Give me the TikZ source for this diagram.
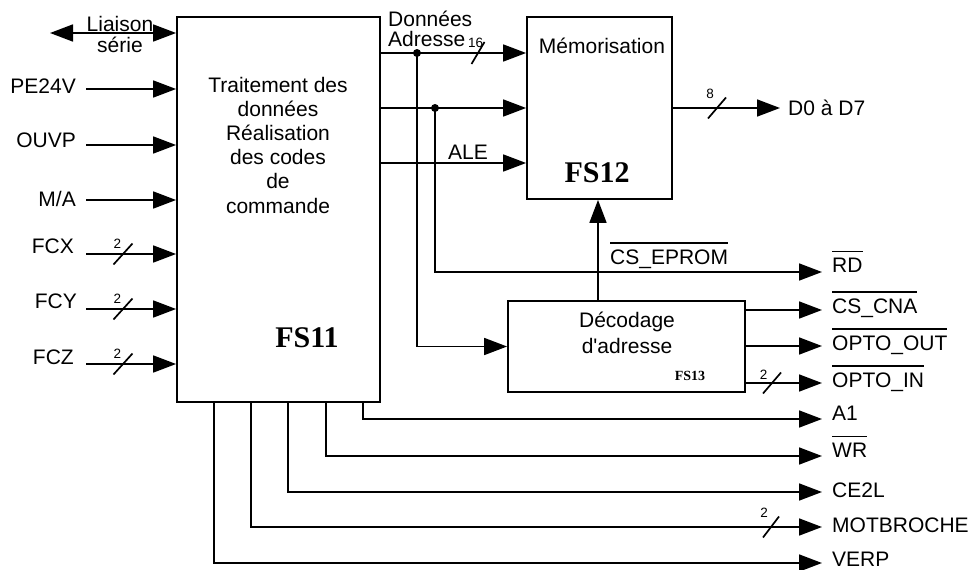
\documentclass[tikz,border=0pt]{standalone}
\usepackage{fontspec}
\setmainfont{Liberation Sans}
\setmonofont{Liberation Sans}
\newfontfamily\fsfont{Liberation Serif}
\usetikzlibrary{arrows.meta,calc}
\newcommand{\ovl}[1]{\vbox{\hrule height 1.5pt\kern 5.5pt\hbox{#1}}}
\tikzset{
  wire/.style={line width=1.7pt},
  arr/.style={wire,-{Triangle[length=23pt,width=17pt]}},
  darr/.style={wire,{Triangle[length=23pt,width=17pt]}-{Triangle[length=23pt,width=17pt]}},
  blk/.style={draw,line width=1.8pt,inner sep=0pt},
  lbl/.style={font=\fontsize{21}{24}\selectfont,inner sep=0pt},
  num/.style={font=\fontsize{13.5}{16}\selectfont,inner sep=0pt},
  fsl/.style={font=\fontsize{30}{32}\selectfont\fsfont\bfseries,inner sep=0pt},
  fss/.style={font=\fontsize{14}{16}\selectfont\fsfont\bfseries,inner sep=0pt},
  dot/.style={circle,fill,inner sep=0pt,minimum size=8pt}
}
\begin{document}
\begin{tikzpicture}[x=1pt,y=-1pt]
\useasboundingbox (0,0) rectangle (972,570);
% blocks
\node[blk,minimum width=203pt,minimum height=385pt] (fs11) at (278.5,209.5) {};
\node[blk,minimum width=145pt,minimum height=182pt] (fs12) at (599.5,108) {};
\node[blk,minimum width=237pt,minimum height=91pt] (fs13) at (626.5,346.5) {};
% FS11 text
\foreach \t/\yy [count=\i] in {Traitement des/92,donn\'ees/116.2,R\'ealisation/140.4,des codes/164.6,de/188.8,commande/213}
  \node[lbl,anchor=base] (t\i) at (278,\yy) {\t};
\node[fsl,anchor=base] (n11) at (307,347) {FS11};
\node[lbl,anchor=base] (memo) at (602,53) {Mémorisation};
\node[fsl,anchor=base] (n12) at (597,182) {FS12};
\node[lbl,anchor=base] (deco1) at (627,327) {Décodage};
\node[lbl,anchor=base] (deco2) at (627,353) {d{\ttfamily '}adresse};
\node[fss,anchor=base] (n13) at (690,380) {FS13};
% left inputs
\coordinate (ls) at (50,33);
\draw[darr] (ls) -- (fs11.west |- ls);
\node[lbl,anchor=base] (liai) at (120,31) {Liaison};
\node[lbl,anchor=base] (serie) at (120,52) {série};
\foreach \name/\txt/\ly/\lx/\base in {pe/PE24V/89/76/93, ou/OUVP/145/76/147, ma/M\slash A/200/76/206, fx/FCX/254/74/253, fy/FCY/309/77/308, fz/FCZ/364/74/364}{
  \coordinate (\name) at (86,\ly);
  \node[lbl,anchor=base east] (l\name) at (\lx,\base) {\txt};
  \draw[arr] (\name) -- (fs11.west |- \name);
}
\foreach \name in {fx,fy,fz}{
  \draw[wire] ($(\name)+(27.5,10.5)$) -- ++(19,-21);
}
\node[num,anchor=base] (n2x) at (117.5,248) {2};
\node[num,anchor=base] (n2y) at (117.5,303) {2};
\node[num,anchor=base] (n2z) at (117.5,358) {2};
% FS11 -> FS12
\coordinate (d1) at (417,53);
\coordinate (d2) at (435,108);
\coordinate (ale) at (430,163);
\draw[arr] (fs11.east |- d1) -- (fs12.west |- d1);
\draw[arr] (fs11.east |- d2) -- (fs12.west |- d2);
\draw[arr] (fs11.east |- ale) -- (fs12.west |- ale);
\node[dot] (dd1) at (d1) {};
\node[dot] (dd2) at (d2) {};
\draw[wire] (478,53) ++(-6.5,11) -- ++(13,-22);
\node[lbl,anchor=base west] (don) at (388,26) {Données};
\node[lbl,anchor=base west] (adr) at (388,46) {Adresse};
\node[num,anchor=base west] (n16) at (468,47) {16};
\node[lbl,anchor=base] (lale) at (468,159) {ALE};
% FS12 output
\coordinate (dout) at (780,108);
\draw[arr] (fs12.east |- dout) -- (dout);
\draw[wire] (717,108) ++(-9,10.5) -- ++(18,-21);
\node[num,anchor=base] (n8) at (710,98) {8};
\node[lbl,anchor=base west] (ld) at (788,115) {D0 à D7};
% address decoding branch
\draw[arr] (d1) -- (d1 |- fs13.west) -- (fs13.west);
\coordinate (rd) at (822,272);
\draw[arr] (d2) -- (d2 |- rd) -- (rd);
\draw[arr] (fs13.north -| 598,0) -- (fs12.south -| 598,0);
\node[lbl,anchor=base west] (cse) at (610,264) {\ovl{CS\_EPROM}};
% decoder outputs
\coordinate (ocs) at (822,310);
\coordinate (oout) at (822,346);
\coordinate (oin) at (822,383);
\draw[arr] (fs13.east |- ocs) -- (ocs);
\draw[arr] (fs13.east |- oout) -- (oout);
\draw[arr] (fs13.east |- oin) -- (oin);
\draw[wire] (772,383) ++(-9,10.5) -- ++(18,-21);
\node[num,anchor=base] (n2in) at (763.5,379) {2};
% FS11 bottom outputs
\foreach \name/\xx/\yy in {a1/363/419, wr/326/456, ce/288/492, mot/251/527, ve/214/563}{
  \coordinate (o\name) at (822,\yy);
  \draw[arr] (fs11.south -| \xx,0) -- (\xx,\yy) -- (o\name);
}
\draw[wire] (771,527) ++(-8,10.5) -- ++(16,-21);
\node[num,anchor=base] (n2m) at (764,517) {2};
% right labels
\node[lbl,anchor=base west] (lrd) at (832,272) {\ovl{RD}};
\node[lbl,anchor=base west] (lcs) at (832,313) {\ovl{CS\_CNA}};
\node[lbl,anchor=base west] (lout) at (832,350) {\ovl{OPTO\_OUT}};
\node[lbl,anchor=base west] (lin) at (832,387) {\ovl{OPTO\_IN}};
\node[lbl,anchor=base west] (la1) at (832,420) {A1};
\node[lbl,anchor=base west] (lwr) at (832,457) {\ovl{WR}};
\node[lbl,anchor=base west] (lce) at (832,497) {CE2L};
\node[lbl,anchor=base west] (lmot) at (832,532) {MOTBROCHE};
\node[lbl,anchor=base west] (lve) at (832,566) {VERP};
\end{tikzpicture}
\end{document}
